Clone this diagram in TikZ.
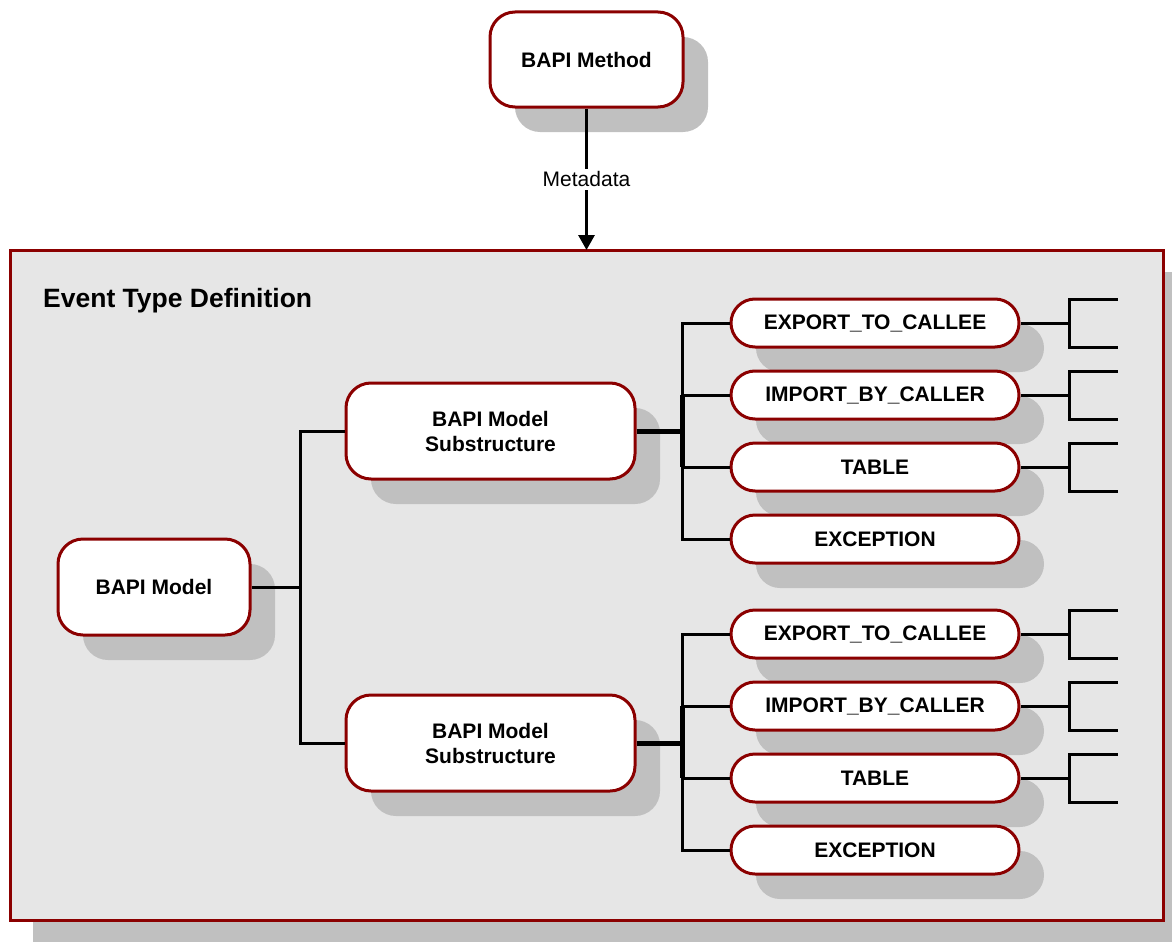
\documentclass[tikz,border=0pt]{standalone}
\usepackage{fontspec}
\setmainfont{Liberation Sans}
\usetikzlibrary{arrows.meta,shapes.misc,shadows,calc}
\definecolor{dred}{HTML}{8B0000}
\definecolor{shgray}{HTML}{C0C0C0}
\definecolor{framegray}{HTML}{E6E6E6}
\tikzset{
  shd/.style={general shadow={fill=shgray, shadow xshift=25pt, shadow yshift=-25pt}},
  rbox/.style={shd, draw=dred, line width=3pt, fill=white, rounded corners=25pt,
    align=center, font=\bfseries\fontsize{21}{25}\selectfont, inner sep=0pt},
  pill/.style={shd, rounded rectangle, draw=dred, line width=3pt, fill=white,
    minimum width=288pt, minimum height=48pt, inner sep=0pt,
    font=\bfseries\fontsize{21}{25}\selectfont},
  link/.style={line width=3pt, draw=black},
  tlink/.style={line width=5pt, draw=black},
}
\newcommand{\bracketat}[1]{%
  \draw[link] (#1.east) -- ++(49,0) coordinate (#1-b);
  \draw[link] ($(#1-b)+(48,-24)$) -- ++(-48,0) -- ++(0,48) -- ++(48,0);}
\begin{document}
\begin{tikzpicture}[x=1pt,y=-1pt]
\useasboundingbox (0,0) rectangle (1172,942);
% frame with shadow
\fill[shgray] (33,272) rectangle (1172,942);
\node[draw=dred, line width=3pt, fill=framegray, minimum width=1153pt, minimum height=670pt,
  anchor=north west, inner sep=0pt, outer sep=0pt] (frame) at (10,250) {};
\node[anchor=west, inner sep=0pt, font=\bfseries\fontsize{26.5}{30}\selectfont] (title) at (43,301) {Event Type Definition};

% top method box
\node[rbox, minimum width=193pt, minimum height=95pt] (method) at (586.5,59.5) {BAPI Method};
\draw[link, -{Triangle[width=16pt,length=15pt]}] (method.south) -- (method.south |- frame.north)
  node[pos=0.5, fill=white, inner sep=3pt, font=\fontsize{21}{25}\selectfont] (meta) {Metadata};

% model and substructures
\node[rbox, minimum width=192pt, minimum height=96pt] (model) at (154,587) {BAPI Model};
\node[rbox, minimum width=289pt, minimum height=96pt] (sub1) at (490.5,431) {BAPI Model\\Substructure};
\node[rbox, minimum width=289pt, minimum height=96pt] (sub2) at (490.5,743) {BAPI Model\\Substructure};

% leaves group 1
\node[pill] (e1) at (875,323) {EXPORT\_TO\_CALLEE};
\node[pill] (i1) at (875,395) {IMPORT\_BY\_CALLER};
\node[pill] (t1) at (875,467) {TABLE};
\node[pill] (x1) at (875,539) {EXCEPTION};
% leaves group 2
\node[pill] (e2) at (875,634) {EXPORT\_TO\_CALLEE};
\node[pill] (i2) at (875,706) {IMPORT\_BY\_CALLER};
\node[pill] (t2) at (875,778) {TABLE};
\node[pill] (x2) at (875,850) {EXCEPTION};

% model tree
\draw[link] (model.east) -- ++(49,0) coordinate (mb);
\draw[link] (sub1.west) -| (mb) |- (sub2.west);

% group 1 bus
\coordinate (bus1) at (682,431);
\draw[link] (e1.west) -| (bus1) |- (x1.west);
\draw[link] (i1.west) -- (i1.west -| bus1);
\draw[link] (t1.west) -- (t1.west -| bus1);
\draw[tlink] (sub1.east) -- (bus1);
\draw[tlink] (i1.west -| bus1) -- (t1.west -| bus1);

% group 2 bus
\coordinate (bus2) at (682,743);
\draw[link] (e2.west) -| (bus2) |- (x2.west);
\draw[link] (i2.west) -- (i2.west -| bus2);
\draw[link] (t2.west) -- (t2.west -| bus2);
\draw[tlink] (sub2.east) -- (bus2);
\draw[tlink] (i2.west -| bus2) -- (t2.west -| bus2);

% brackets
\bracketat{e1}
\bracketat{i1}
\bracketat{t1}
\bracketat{e2}
\bracketat{i2}
\bracketat{t2}
\end{tikzpicture}
\end{document}
